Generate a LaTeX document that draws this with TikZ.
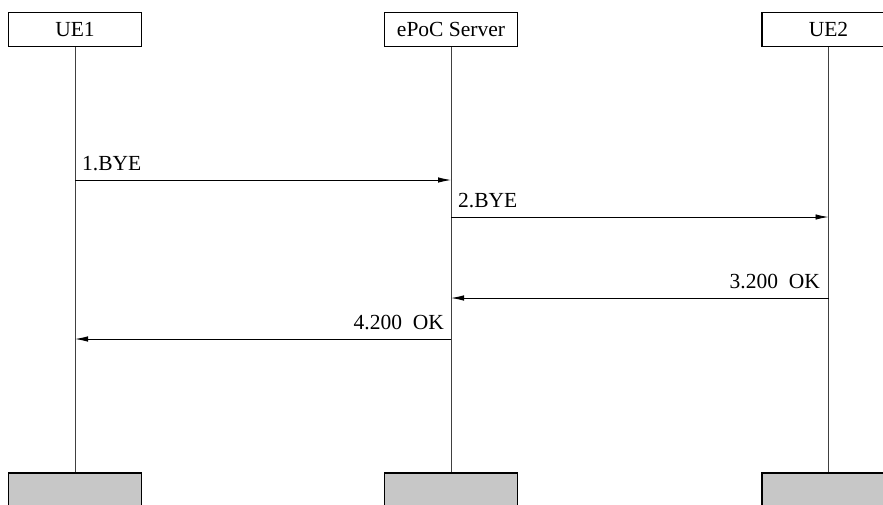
\documentclass[tikz,border=0pt]{standalone}
\usepackage{fontspec}
\setmainfont{Liberation Serif}
\usetikzlibrary{arrows.meta}
\begin{document}
\begin{tikzpicture}[x=1pt,y=-1pt,
  topbox/.style={draw=black,line width=1.5pt,fill=white,minimum width=133pt,minimum height=34pt,inner sep=0pt,font=\fontsize{21.5}{24}\selectfont},
  botbox/.style={draw=black,line width=1.5pt,fill=black!22,minimum width=133pt,minimum height=40pt,inner sep=0pt},
  life/.style={draw=black!75,line width=0.9pt},
  msg/.style={draw=black,line width=0.9pt,-{Latex[length=13pt,width=5.5pt]}},
  lbl/.style={font=\fontsize{21.5}{24}\selectfont,inner sep=0pt}]
\useasboundingbox (0,0) rectangle (883,504);
\clip (0,0) rectangle (883,504);
\node[topbox] (ue1) at (75,29.5) {UE1};
\node[topbox] (srv) at (451,29.5) {ePoC Server};
\node[topbox] (ue2) at (828.5,29.5) {UE2};
\node[botbox,anchor=north] (ue1b) at (75,472) {};
\node[botbox,anchor=north] (srvb) at (451,472) {};
\node[botbox,anchor=north] (ue2b) at (828.5,472) {};
\draw[life] (ue1.south) -- (ue1b.north);
\draw[life] (srv.south) -- (srvb.north);
\draw[life] (ue2.south) -- (ue2b.north);
\coordinate (a1) at (75,180); \coordinate (b1) at (451,180);
\coordinate (a2) at (451,217); \coordinate (b2) at (828.5,217);
\coordinate (a3) at (828.5,298); \coordinate (b3) at (451,298);
\coordinate (a4) at (451,339); \coordinate (b4) at (75,339);
\draw[msg] (a1) -- (b1);
\draw[msg] (a2) -- (b2);
\draw[msg] (a3) -- (b3);
\draw[msg] (a4) -- (b4);
\node[lbl,anchor=base west] (l1) at (82,170) {1.BYE};
\node[lbl,anchor=base west] (l2) at (458,207) {2.BYE};
\node[lbl,anchor=base east] (l3) at (820,288) {3.200\ \ OK};
\node[lbl,anchor=base east] (l4) at (444,329) {4.200\ \ OK};
\end{tikzpicture}
\end{document}
